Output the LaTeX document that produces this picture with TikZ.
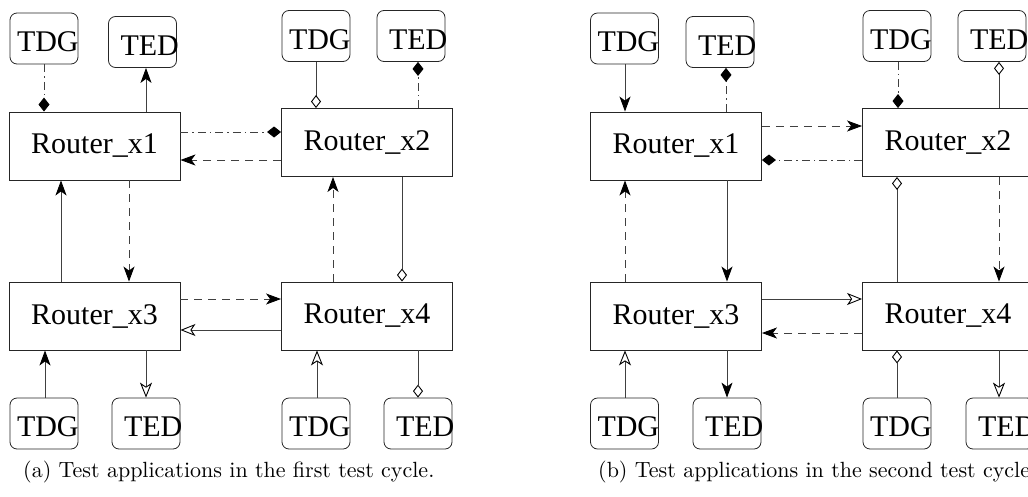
\documentclass[tikz,border=0pt]{standalone}
\usepackage{fontspec}
\newfontfamily\boxfont{Liberation Serif}
% caption set in the 10pt design size, scaled up
\newfontfamily\capfont{lmroman10-regular.otf}
\usetikzlibrary{arrows.meta}

% text inside a rounded application box: left offset, then the label
\newcommand\apptext[2]{\makebox[68pt][l]{\hspace*{#1}\rule{0pt}{27pt}#2}}

\begin{document}
\begin{tikzpicture}[
  x=1pt, y=-1pt,
  router/.style={draw=black!85, line width=0.9pt, minimum width=171pt,
    minimum height=68pt, inner sep=0pt, font=\boxfont\fontsize{30}{36}\selectfont},
  app/.style={draw=black!85, line width=0.8pt, rounded corners=7pt,
    minimum width=68pt, minimum height=51pt, inner sep=0pt,
    font=\boxfont\fontsize{30}{36}\selectfont},
  caption/.style={inner sep=0pt, anchor=base west, font=\capfont\fontsize{22}{26}\selectfont},
  wire/.style={draw=black!75, line width=0.9pt},
  dsh/.style={wire, dash pattern=on 8pt off 6pt},
  ddot/.style={wire, dash pattern=on 8pt off 4pt on 1.5pt off 4pt},
  tipS/.style={-{Stealth[length=15pt, width=11pt, inset=4pt, black]}},
  tipSo/.style={-{Stealth[open, length=15pt, width=12pt, inset=4pt, black, fill=white]}},
  tipD/.style={-{Diamond[length=14pt, width=11pt, black]}},
  tipDo/.style={-{Diamond[open, length=13pt, width=10pt, black, fill=white]}},
]
\useasboundingbox (0,0) rectangle (1028,496);
\clip (0,0) rectangle (1028,496);

% ---------------- (a) first test cycle ----------------
\node[app] (tdgA) at (44,38.5)   {\apptext{7pt}{TDG}};
\node[app] (tedA) at (142.5,42)  {\apptext{12pt}{TED}};
\node[app] (tdgB) at (316,36)    {\apptext{7pt}{TDG}};
\node[app] (tedB) at (411,36)    {\apptext{12pt}{TED}};
\node[router] (r1) at (94.5,146) {Router\_x1\hspace{7pt}};
\node[router] (r2) at (367,142.5){Router\_x2\hspace{7pt}};
\node[router] (r3) at (94.5,316) {Router\_x3\hspace{7pt}};
\node[router] (r4) at (367,316)  {Router\_x4\hspace{7pt}};
\node[app] (tdgC) at (44,423.5)  {\apptext{7pt}{TDG}};
\node[app] (tedC) at (146,423.5) {\apptext{12pt}{TED}};
\node[app] (tdgD) at (316,423.5) {\apptext{7pt}{TDG}};
\node[app] (tedD) at (418,423.5) {\apptext{12pt}{TED}};

\draw[ddot, tipD]  (tdgA.south) -- (tdgA.south |- r1.north);
\draw[wire, tipS]  (r1.north -| 146,0) -- (tedA.south -| 146,0);
\draw[ddot, tipD]  (r1.east |- 0,132) -- (r2.west |- 0,132);
\draw[dsh, tipS]   (r2.west |- 0,160) -- (r1.east |- 0,160);
\draw[dsh, tipS]   (r1.south -| 129,0) -- (r3.north -| 129,0);
\draw[wire, tipS]  (r3.north -| 61,0) -- (r1.south -| 61,0);
\draw[wire, tipDo] (tdgB.south) -- (tdgB.south |- r2.north);
\draw[ddot, tipD]  (r2.north -| 418,0) -- (tedB.south -| 418,0);
\draw[dsh, tipS]   (r4.north -| 333,0) -- (r2.south -| 333,0);
\draw[wire, tipDo] (r2.south -| 402,0) -- (r4.north -| 402,0);
\draw[dsh, tipS]   (r3.east |- 0,299) -- (r4.west |- 0,299);
\draw[wire, tipSo] (r4.west |- 0,330) -- (r3.east |- 0,330);
\draw[wire, tipS]  (tdgC.north -| 45,0) -- (r3.south -| 45,0);
\draw[wire, tipSo] (r3.south -| 146,0) -- (tedC.north);
\draw[wire, tipSo] (tdgD.north -| 317,0) -- (r4.south -| 317,0);
\draw[wire, tipDo] (r4.south -| 418,0) -- (tedD.north);

\node[caption] (capA) at (23,477) {(a) Test applications in the first test cycle.};

% ---------------- (b) second test cycle ----------------
\node[app] (tdgE) at (624.5,38.5) {\apptext{7pt}{TDG}};
\node[app] (tedF) at (720,42)     {\apptext{12pt}{TED}};
\node[app] (tdgG) at (897,36)     {\apptext{7pt}{TDG}};
\node[app] (tedH) at (992,36)     {\apptext{12pt}{TED}};
\node[router] (s1) at (676,146)   {Router\_x1\hspace{7pt}};
\node[router] (s2) at (948,142.5) {Router\_x2\hspace{7pt}};
\node[router] (s3) at (676,316)   {Router\_x3\hspace{7pt}};
\node[router] (s4) at (948,316)   {Router\_x4\hspace{7pt}};
\node[app] (tdgI) at (624.5,423.5){\apptext{7pt}{TDG}};
\node[app] (tedJ) at (727,423.5)  {\apptext{12pt}{TED}};
\node[app] (tdgK) at (897,423.5)  {\apptext{7pt}{TDG}};
\node[app] (tedL) at (1000,423.5) {\apptext{12pt}{TED}};

\draw[wire, tipS]  (tdgE.south -| 625,0) -- (s1.north -| 625,0);
\draw[ddot, tipD]  (s1.north -| 726,0) -- (tedF.south -| 726,0);
\draw[dsh, tipS]   (s1.east |- 0,126) -- (s2.west |- 0,126);
\draw[ddot, tipD]  (s2.west |- 0,160) -- (s1.east |- 0,160);
\draw[wire, tipS]  (s1.south -| 727,0) -- (s3.north -| 727,0);
\draw[dsh, tipS]   (s3.north -| 625,0) -- (s1.south -| 625,0);
\draw[ddot, tipD]  (tdgG.south -| 898,0) -- (s2.north -| 898,0);
\draw[wire, tipDo] (s2.north -| 999,0) -- (tedH.south -| 999,0);
\draw[wire, tipDo] (s4.north -| 897,0) -- (s2.south -| 897,0);
\draw[dsh, tipS]   (s2.south -| 999,0) -- (s4.north -| 999,0);
\draw[wire, tipSo] (s3.east |- 0,299) -- (s4.west |- 0,299);
\draw[dsh, tipS]   (s4.west |- 0,333) -- (s3.east |- 0,333);
\draw[wire, tipSo] (tdgI.north -| 625,0) -- (s3.south -| 625,0);
\draw[wire, tipS]  (s3.south -| 727,0) -- (tedJ.north -| 727,0);
\draw[wire, tipDo] (tdgK.north -| 897,0) -- (s4.south -| 897,0);
\draw[wire, tipSo] (s4.south -| 999,0) -- (tedL.north -| 999,0);

\node[caption] (capB) at (598,477) {(b) Test applications in the second test cycle.};
\end{tikzpicture}
\end{document}
